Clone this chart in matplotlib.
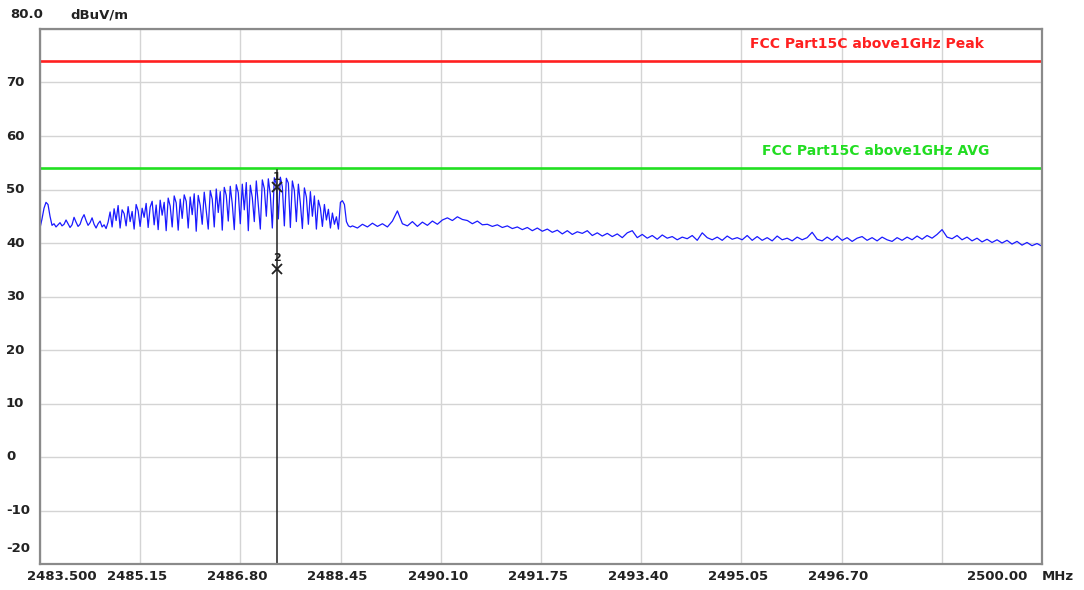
import matplotlib
matplotlib.use("Agg")
import matplotlib.pyplot as plt
import numpy as np

# axis ranges
f_start, f_stop = 2483.5, 2500.0
y_min, y_max = -20, 80
x_tick_labels = ['2483.500', '2485.15', '2486.80', '2488.45', '2490.10', '2491.75',
                 '2493.40', '2495.05', '2496.70', '', '2500.00']
y_tick_values = [70, 60, 50, 40, 30, 20, 10, 0, -10, -20]

# limit lines
peak_limit = 74.0
avg_limit = 54.0
peak_label = 'FCC Part15C above1GHz Peak'
avg_label = 'FCC Part15C above1GHz AVG'

# trace, part 1 (2483.50 - 2488.61 MHz)
level_busy = [
    42.8, 44.5, 46.5, 47.6, 47.2, 45.0, 43.3, 43.6, 43.0, 43.4,
    43.8, 43.2, 43.5, 44.3, 43.6, 42.9, 43.4, 44.8, 43.9, 43.1, 43.5, 44.6, 45.3,
    44.2, 43.3, 43.8, 44.7, 43.5, 42.8, 43.6, 44.1, 43.0, 43.4, 42.7, 43.9,
    45.8, 43.0, 46.4, 44.2, 47.0, 42.8, 46.2, 45.5, 43.2, 46.8, 44.0, 45.9, 42.6,
    47.2, 46.0, 43.1, 46.5, 44.8, 47.4, 42.9, 46.7, 47.8, 43.4, 47.1, 42.5,
    48.0, 45.2, 47.6, 42.3, 48.4, 46.9, 43.0, 48.8, 47.5, 42.4, 48.2, 44.6, 49.0,
    47.8, 42.8, 48.6, 45.3, 49.2, 42.2, 48.9, 47.0, 43.5, 49.5, 46.1, 42.6,
    49.8, 48.2, 43.0, 50.1, 45.7, 49.6, 42.4, 50.4, 48.9, 44.1, 50.6, 47.3, 42.5,
    50.9, 49.4, 43.6, 51.0, 46.2, 51.3, 42.3, 50.8, 48.5, 44.0, 51.6, 47.0,
    42.6, 51.8, 50.2, 45.0, 52.0, 49.0, 42.8, 52.2, 51.0, 44.5, 52.3, 50.5, 43.2,
    52.1, 51.2, 42.9, 51.6, 49.8, 44.0, 51.0, 47.4, 42.7, 50.3, 48.6, 43.5,
    49.6, 45.0, 48.8, 42.6, 48.0, 46.5, 43.1, 47.2, 44.3, 46.3, 42.8, 45.6, 43.5,
    44.9, 42.6, 47.6, 47.9, 47.2, 44.0, 43.2, 43.0,
]
# trace, part 2 (2488.64 - 2500.00 MHz)
level_rest = [
    43.2, 42.8, 43.5, 43.0, 43.7, 43.1, 43.6, 43.0, 44.1, 46.0, 43.6,
    43.2, 44.0, 43.1, 43.9, 43.3, 44.1, 43.5, 44.3, 44.7, 44.2,
    44.9, 44.4, 44.2, 43.6, 44.1, 43.4, 43.5, 43.1, 43.4, 42.9,
    43.2, 42.7, 43.0, 42.5, 42.9, 42.3, 42.8, 42.2, 42.6, 42.0,
    42.4, 41.7, 42.3, 41.6, 42.1, 41.8, 42.3, 41.4, 41.9, 41.3,
    41.8, 41.2, 41.7, 41.0, 41.9, 42.3, 41.0, 41.6, 40.9, 41.4,
    40.7, 41.5, 40.9, 41.2, 40.6, 41.1, 40.8, 41.4, 40.5, 41.9,
    41.0, 40.6, 41.1, 40.5, 41.3, 40.7, 41.0, 40.6, 41.4, 40.5,
    41.2, 40.5, 41.0, 40.4, 41.3, 40.6, 40.9, 40.4, 41.1, 40.6,
    41.0, 42.0, 40.7, 40.4, 41.1, 40.5, 41.3, 40.5, 41.0, 40.3,
    40.9, 41.2, 40.5, 41.0, 40.4, 41.1, 40.6, 40.3, 41.0, 40.5,
    41.1, 40.6, 41.3, 40.7, 41.4, 40.9, 41.6, 42.5, 41.1, 40.8,
    41.4, 40.6, 41.1, 40.4, 40.9, 40.2, 40.7, 40.1, 40.6, 40.0,
    40.5, 39.8, 40.3, 39.6, 40.1, 39.5, 39.9, 39.4,
]
freq_busy = np.linspace(2483.5, 2488.612, len(level_busy))
freq_rest = np.linspace(2488.645, 2500.0, len(level_rest))

# markers
marker_freq = [2487.40, 2487.40]
marker_level = [50.4, 35.2]
marker_names = ['1', '2']

W, H = 1084, 590
fig = plt.figure(figsize=(W / 100, H / 100), dpi=100)
ax = fig.add_axes([40 / W, 1 - 564 / H, 1002 / W, 535 / H])
ax.set_xlim(f_start, f_stop)
ax.set_ylim(y_min, y_max)

xt = np.linspace(f_start, f_stop, 11)
ax.set_xticks(xt)
ax.set_yticks(np.arange(-20, 81, 10))
ax.grid(True, color='#d4d4d4', lw=1)
ax.tick_params(length=0, labelbottom=False, labelleft=False)
for s in ax.spines.values():
    s.set_color('#8a8a8a')
    s.set_linewidth(1.6)

ax.axhline(peak_limit, color='#ff2020', lw=1.9)
ax.axhline(avg_limit, color='#22e022', lw=1.9)

freq = np.concatenate([freq_busy, freq_rest])
level = level_busy + level_rest
ax.plot(freq, level, color='#1a1aff', lw=0.9)

# marker line and markers
ax.plot([marker_freq[0], marker_freq[0]], [53.6, y_min], color='#202020', lw=1.1)
ax.plot(marker_freq, marker_level, 'x', color='#202020', ms=7, mew=1.3)
for f, lv, n in zip(marker_freq, marker_level, marker_names):
    ax.text(f, lv + 2.0, n, ha='center', va='center', fontsize=8, fontweight='bold', color='#202020')

txt = dict(fontsize=9.5, fontweight='bold', color='#222222', va='center')
# limit labels (pixel positions)
fig.text(750 / W, 1 - 44 / H, peak_label, ha='left', fontsize=10, fontweight='bold', color='#ff2020', va='center')
fig.text(762 / W, 1 - 151 / H, avg_label, ha='left', fontsize=10, fontweight='bold', color='#22dd22', va='center')

# y labels
for v in y_tick_values:
    py = 29 + (80 - v) * 5.35
    if v == -20:
        py = 549
    fig.text(6 / W, 1 - py / H, str(v), ha='left', **txt)
fig.text(10 / W, 1 - 15 / H, '80.0', ha='left', **txt)
fig.text(70 / W, 1 - 15 / H, 'dBuV/m', ha='left', **txt)

# x labels
for i, lab in enumerate(x_tick_labels):
    if not lab:
        continue
    px = 40 + i * 100.2 - 3
    if i == 0:
        px = 62
    if i == 10:
        px = 997
    fig.text(px / W, 1 - 577 / H, lab, ha='center', **txt)
fig.text(1058 / W, 1 - 577 / H, 'MHz', ha='center', **txt)

fig.savefig('out.png', dpi=100)
